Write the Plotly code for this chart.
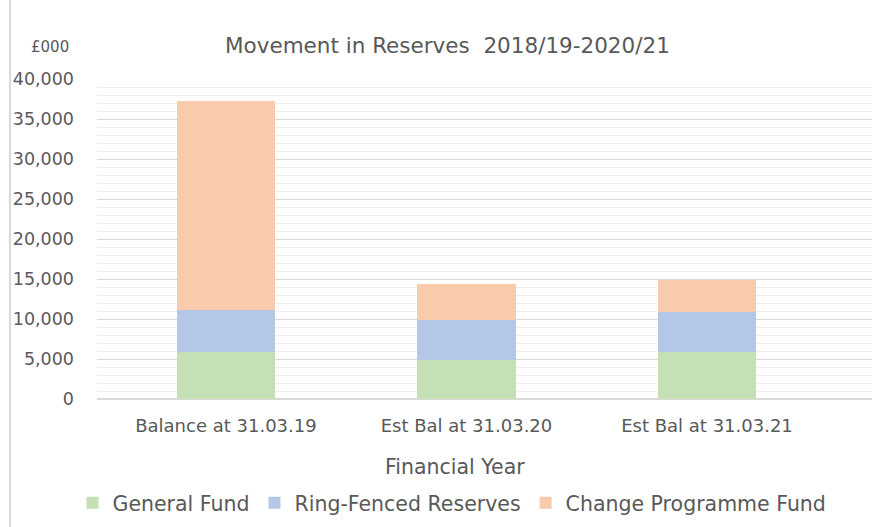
import plotly.graph_objects as go

categories = ["Balance at 31.03.19", "Est Bal at 31.03.20", "Est Bal at 31.03.21"]
general_fund = [5900, 4900, 5900]
ring_fenced = [5200, 5000, 5000]
change_programme = [26200, 4500, 4000]

FONT = "DejaVu Sans"
TXT = "#595959"

fig = go.Figure()
fig.add_trace(go.Bar(name="General Fund", x=categories, y=general_fund,
                     marker=dict(color="#C5E0B4", line=dict(width=0)), width=0.41))
fig.add_trace(go.Bar(name="Ring-Fenced Reserves", x=categories, y=ring_fenced,
                     marker=dict(color="#B4C7E7", line=dict(width=0)), width=0.41))
fig.add_trace(go.Bar(name="Change Programme Fund", x=categories, y=change_programme,
                     marker=dict(color="#F8CBAD", line=dict(width=0)), width=0.41))

fig.update_layout(
    barmode="stack",
    width=872, height=527,
    margin=dict(l=97, r=0, t=79, b=128, autoexpand=False),
    paper_bgcolor="white", plot_bgcolor="white",
    font=dict(family=FONT, size=15, color=TXT),
    showlegend=True,
    legend=dict(orientation="h", xref="container", yref="container",
                x=452/872, xanchor="center", y=1-503/527, yanchor="middle",
                font=dict(size=20.5, color=TXT), traceorder="normal",
                itemwidth=30),
    xaxis=dict(type="category", range=[-0.536, 2.686], showgrid=False,
               showline=False, ticks="", tickfont=dict(size=18, color=TXT),
               ticklabelstandoff=14),
    yaxis=dict(range=[0, 40000], dtick=5000, tickformat=",d",
               gridcolor="#D9D9D9", gridwidth=1,
               minor=dict(dtick=1000, showgrid=True, gridcolor="#EFEFEF", gridwidth=1),
               zeroline=True, zerolinecolor="#D9D9D9", showline=False,
               tickfont=dict(size=17.5, color=TXT), ticklabelstandoff=22),
)

fig.add_annotation(text="Movement in Reserves  2018/19-2020/21", xref="paper", yref="paper",
                   x=(447-97)/775, y=1+(79-45)/320, showarrow=False,
                   font=dict(size=21.5, color=TXT), xanchor="center", yanchor="middle")
fig.add_annotation(text="£000", xref="paper", yref="paper",
                   x=(50-97)/775, y=1+(79-47)/320, showarrow=False,
                   font=dict(size=15, color=TXT), xanchor="center", yanchor="middle")
fig.add_annotation(text="Financial Year", xref="paper", yref="paper",
                   x=(455-97)/775, y=-(467-399)/320, showarrow=False,
                   font=dict(size=20.5, color=TXT), xanchor="center", yanchor="middle")
fig.add_shape(type="line", xref="paper", yref="paper",
              x0=(10-97)/775, x1=(10-97)/775, y0=-(527-399)/320, y1=1+79/320,
              line=dict(color="#D9D9D9", width=2))

fig.write_html("out.html", config={"displayModeBar": False},
               post_script="document.body.style.margin='0';")
